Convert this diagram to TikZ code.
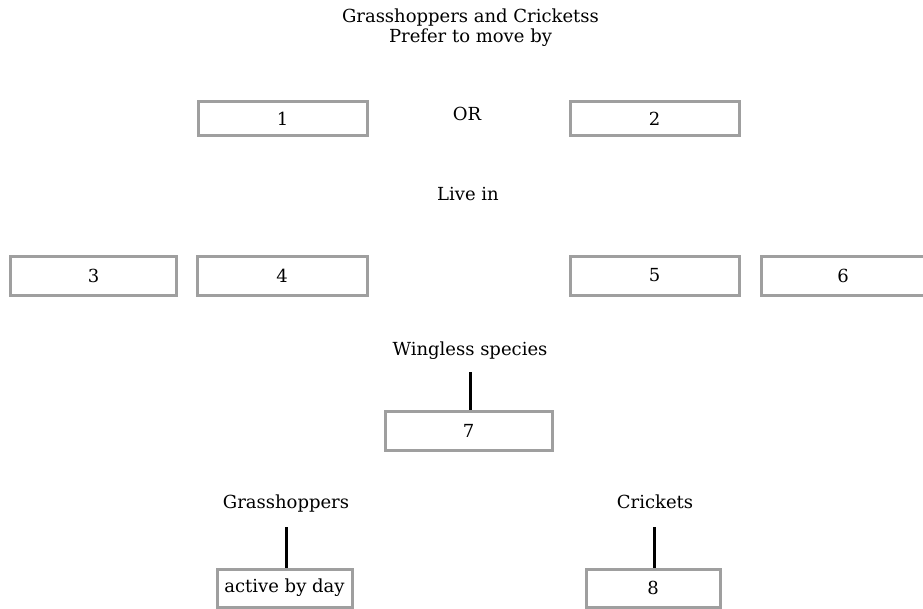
\documentclass[tikz,border=0pt]{standalone}
\usepackage{fontspec}
\setmainfont{DejaVu Serif}
\begin{document}
\begin{tikzpicture}[x=1pt,y=-1pt,
  box/.style={draw=gray!75,line width=3pt,fill=white,inner sep=0pt,font=\fontsize{18}{20}\selectfont},
  lbl/.style={inner sep=0pt,font=\fontsize{18}{20}\selectfont,anchor=base},
  stem/.style={draw=black,line width=3pt}]
\useasboundingbox (0,0) rectangle (923,608);
\node[lbl] (title1) at (470.5,22) {Grasshoppers and Cricketss};
\node[lbl] (title2) at (470.5,42) {Prefer to move by};
\node[box,minimum width=169,minimum height=34] (b1) at (282.5,118.5) {1};
\node[lbl] (or) at (467,120) {OR};
\node[box,minimum width=169,minimum height=34] (b2) at (654.5,118.5) {2};
\node[lbl] (livein) at (468,200) {Live in};
\node[box,minimum width=166,minimum height=39] (b3) at (93.5,275.5) {3};
\node[box,minimum width=170,minimum height=39] (b4) at (282,275.5) {4};
\node[box,minimum width=169,minimum height=39] (b5) at (654.5,275.5) {5};
\node[box,minimum width=164,minimum height=39] (b6) at (843,275.5) {6};
\node[lbl] (wing) at (470,355) {Wingless species};
\node[box,minimum width=167,minimum height=39] (b7) at (468.5,430.5) {7};
\coordinate (w7) at (470,372);
\draw[stem] (w7) -- (w7 |- b7.north);
\node[lbl] (gh) at (286,508) {Grasshoppers};
\node[box,minimum width=135,minimum height=38] (bad) at (284.5,588) {active by day};
\coordinate (wg) at (286,527);
\draw[stem] (wg) -- (wg |- bad.north);
\node[lbl] (cr) at (655,508) {Crickets};
\node[box,minimum width=134,minimum height=38] (b8) at (653,588) {8};
\coordinate (wc) at (654,527);
\draw[stem] (wc) -- (wc |- b8.north);
\end{tikzpicture}
\end{document}
